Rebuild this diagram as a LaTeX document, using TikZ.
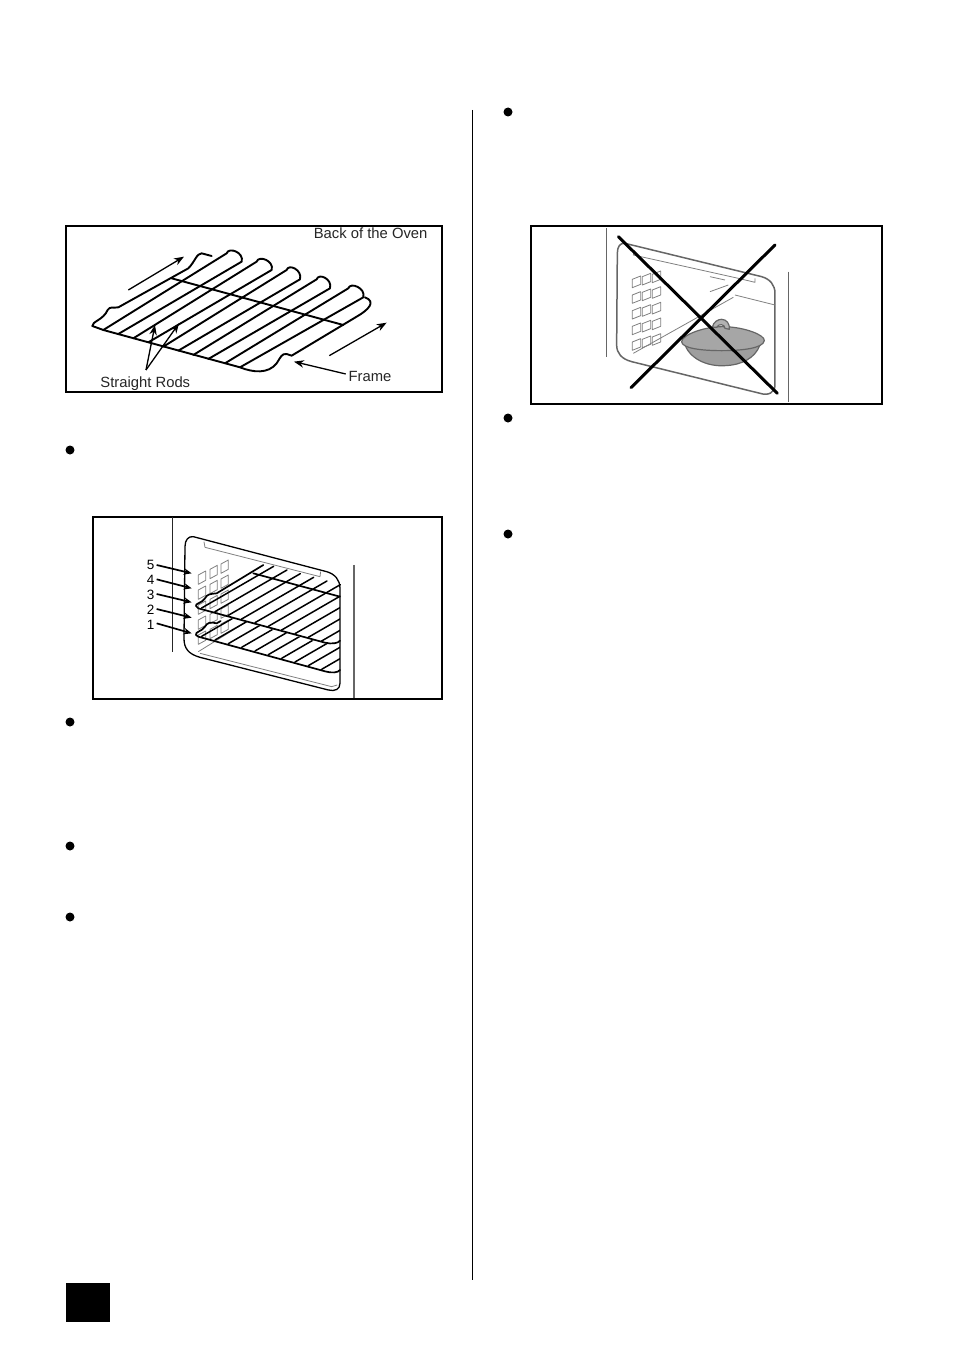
\documentclass[tikz,border=0pt]{standalone}
\usepackage{fontspec}
\setmainfont{Liberation Sans}
\usetikzlibrary{arrows.meta}
\tikzset{
  panel/.style={draw=black,line width=1.7pt,fill=white},
  rodline/.style={draw=black,line width=1.9pt,line join=round,line cap=round},
  thinrod/.style={draw=black,line width=1.5pt,line join=round,line cap=round},
  pointer/.style={draw=black,line width=1.3pt,-{Stealth[length=10pt,width=7.5pt]}},
  pointerb/.style={draw=black,line width=1.7pt,-{Stealth[length=8pt,width=6.5pt]}},
  labeltext/.style={font=\fontsize{14.8}{16}\selectfont,inner sep=0pt,text=black!85},
  numtext/.style={font=\fontsize{13.5}{15}\selectfont,inner sep=0pt,text=black},
  bulletdot/.style={circle,fill=black,minimum size=9pt,inner sep=0pt},
  greyline/.style={draw=black!50,line width=.8pt,line join=round},
  softline/.style={draw=black!60,line width=1.5pt,line join=round},
}
\begin{document}
\begin{tikzpicture}[x=1pt,y=-1pt]
\fill[white] (0,0) rectangle (954,1351);
\useasboundingbox (0,0) rectangle (954,1351);
% page furniture
\draw[black,line width=.9pt] (472,110) -- (472,1280);
\fill[black] (66,1283) rectangle (110,1322);
\foreach \n/\x/\y in {b1/70/450,b2/70/722,b3/70/846,b4/70/917,b5/508/112,b6/508/418,b7/508/534}
  \node[bulletdot] (\n) at (\x,\y) {};

% ---------- figure 1
\draw[panel] (66,226) rectangle (442,392);
\begin{scope}[shift={(60,220)},x=.3333pt,y=-.3333pt]
  \node[labeltext] (back) at (932,41) {Back of the Oven};
  \node[labeltext] (srods) at (256,490) {Straight Rods};
  \node[labeltext] (frame) at (930,468) {Frame};
  % frame
  \draw[rodline] (455,108) -- (425,100) .. controls (410,100) and (405,125) .. (385,145)
     -- (175,262) .. controls (160,265) and (150,258) .. (143,270)
     .. controls (130,300) and (95,305) .. (97,318) -- (130,330) -- (540,442)
     .. controls (580,458) and (625,462) .. (650,430) .. controls (662,412) and (665,400) .. (680,402)
     -- (695,407) -- (890,290) .. controls (925,270) and (950,245) .. (915,232);
  % rods with looped ends
  \foreach \a/\b/\c/\d/\e/\f/\g/\h in {
    130/330/500/100/175/342/545/125,
    220/355/590/125/265/367/635/150,
    310/380/680/150/355/392/720/178,
    400/405/770/178/445/417/810/205,
    495/430/865/205/540/442/910/232}{
    \draw[rodline] (\a,\b) -- (\c,\d) .. controls ([shift={(6,-20)}]\c,\d) and ([shift={(8,-28)}]\g,\h) .. (\g,\h) -- (\e,\f);
  }
  \coordinate (crossA) at (335,175);
  \coordinate (crossB) at (850,315);
  \draw[rodline] (crossA) -- (crossB);
  % arrows
  \coordinate (a1s) at (205,210); \coordinate (a1e) at (372,110);
  \coordinate (a2s) at (808,407); \coordinate (a2e) at (980,308);
  \coordinate (a3e) at (702,425);
  \coordinate (a4e) at (285,315); \coordinate (a5e) at (357,310);
  \coordinate (rodsTop) at (258,450);
  \draw[pointer] (a1s) -- (a1e);
  \draw[pointer] (a2s) -- (a2e);
  \draw[pointer] (frame.west) ++(-8,-6) -- (a3e);
  \draw[pointer] (rodsTop) -- (a4e);
  \draw[pointer] (rodsTop) -- (a5e);
\end{scope}

% ---------- figure 2
\draw[panel] (93,517) rectangle (442,699);
\begin{scope}[shift={(90,510)},x=.3333pt,y=-.3333pt]
  \draw[black!85,line width=1.6pt] (248,20) -- (248,425);
  \draw[black!60,line width=1.7pt] (792,165) -- (792,565);
  % oven outline
  \draw[thinrod,line width=1.3pt] (310,80) -- (710,185) .. controls (735,192) and (750,210) .. (750,235)
     -- (750,520) .. controls (750,538) and (735,545) .. (715,540) -- (330,442)
     .. controls (295,432) and (282,415) .. (282,385) -- (285,110) .. controls (285,90) and (295,78) .. (310,80);
  \draw[greyline] (330,430) -- (725,530) -- (742,525);
  \draw[greyline] (342,95) -- (345,112) -- (690,200) -- (692,185);
  \draw[greyline] (325,425) -- (470,335);
  % grid
  \foreach \c/\dx/\dy in {0/0/0,1/35/-17,2/68/-33}
    \foreach \r in {0,1,2,3,4}
      \draw[greyline] ([shift={(\dx,\dy+45*\r)}]325,195) -- ++(22,-12) -- ++(0,28) -- ++(-22,12) -- cycle;
  % lower rack
  \begin{scope}
    \clip (300,310) -- (320,296) -- (700,400) -- (750,400) -- (750,500) -- (300,500) -- cycle;
    \foreach \i in {0,...,9}
      \draw[thinrod] (335+40*\i,379+11*\i) -- ++(216,-125);
  \end{scope}
  \draw[thinrod,line width=1.7pt] (392,333) -- (380,340) .. controls (360,335) and (352,338) .. (345,350)
     .. controls (335,365) and (315,365) .. (318,375) -- (325,380) -- (705,484) .. controls (725,490) and (745,488) .. (750,480);
  % upper rack
  \begin{scope}
    \clip (300,150) -- (760,150) -- (750,260) -- (750,400) -- (300,400) -- cycle;
    \foreach \i in {0,...,9}
      \draw[thinrod] (335+40*\i,294+11*\i) -- ++(216,-125);
  \end{scope}
  \coordinate (upA) at (490,190); \coordinate (upB) at (750,260);
  \draw[thinrod,line width=1.7pt] (upA) -- (upB);
  \draw[thinrod,line width=1.7pt] (520,165) -- (380,250) .. controls (360,252) and (352,252) .. (345,265)
     .. controls (335,280) and (315,280) .. (318,288) -- (325,295) -- (705,398) .. controls (725,403) and (745,400) .. (750,392);
  % numbers and arrows
  \foreach \num/\ly/\ay/\sy in {5/165/190/165,4/209/235/208,3/255/277/252,2/298/323/297,1/345/370/340}{
    \node[numtext] (n\num) at (182,\ly) {\num};
    \coordinate (t\num) at (305,\ay);
    \coordinate (s\num) at (200,\sy);
    \draw[pointerb] (s\num) -- (t\num);
  }
\end{scope}

% ---------- figure 3
\draw[panel] (531,226) rectangle (882,404);
\begin{scope}[shift={(525,220)},x=.3333pt,y=-.3333pt]
  \draw[softline] (245,25) -- (245,410);
  \draw[softline] (790,155) -- (790,545);
  \draw[softline] (300,70) -- (710,170) .. controls (735,177) and (750,195) .. (750,220)
     -- (750,495) .. controls (750,518) and (730,528) .. (705,520) -- (320,425)
     .. controls (290,417) and (275,400) .. (275,375) -- (277,100) .. controls (277,80) and (285,68) .. (300,70);
  \draw[greyline] (328,92) -- (325,105) -- (640,175) -- (690,187) -- (690,175);
  \draw[greyline] (325,400) -- (625,232);
  \draw[greyline] (630,225) -- (750,255);
  \draw[greyline] (555,215) -- (610,195);
  \draw[greyline] (555,170) -- (600,180);
  \foreach \c/\dx/\dy in {0/0/0,1/30/-8,2/60/-15}
    \foreach \r in {0,1,2,3,4}
      \draw[greyline] ([shift={(\dx,\dy+47*\r)}]322,178) -- ++(25,-10) -- ++(0,25) -- ++(-25,10) -- cycle;
  % pan
  \draw[softline,line width=1.2pt,fill=black!38] (480,375) .. controls (500,425) and (560,440) .. (600,437)
     .. controls (650,435) and (690,415) .. (705,375) -- cycle;
  \draw[softline,line width=1.2pt,fill=black!35] (470,365) .. controls (470,345) and (540,318) .. (600,320)
     .. controls (660,322) and (720,345) .. (718,362) .. controls (715,385) and (650,392) .. (590,392)
     .. controls (530,392) and (470,385) .. (470,365) -- cycle;
  \draw[softline,line width=1.2pt,fill=black!30] (562,322) .. controls (565,305) and (580,298) .. (590,298)
     .. controls (605,298) and (615,312) .. (613,328) -- (600,325) .. controls (600,312) and (580,310) .. (575,322) -- cycle;
  % cross
  \coordinate (x1) at (280,50); \coordinate (x2) at (757,520);
  \coordinate (x3) at (750,75); \coordinate (x4) at (318,503);
  \draw[black,line width=3pt,line cap=round] (x1) -- (x2);
  \draw[black,line width=3pt,line cap=round] (x3) -- (x4);
\end{scope}
\end{tikzpicture}
\end{document}
